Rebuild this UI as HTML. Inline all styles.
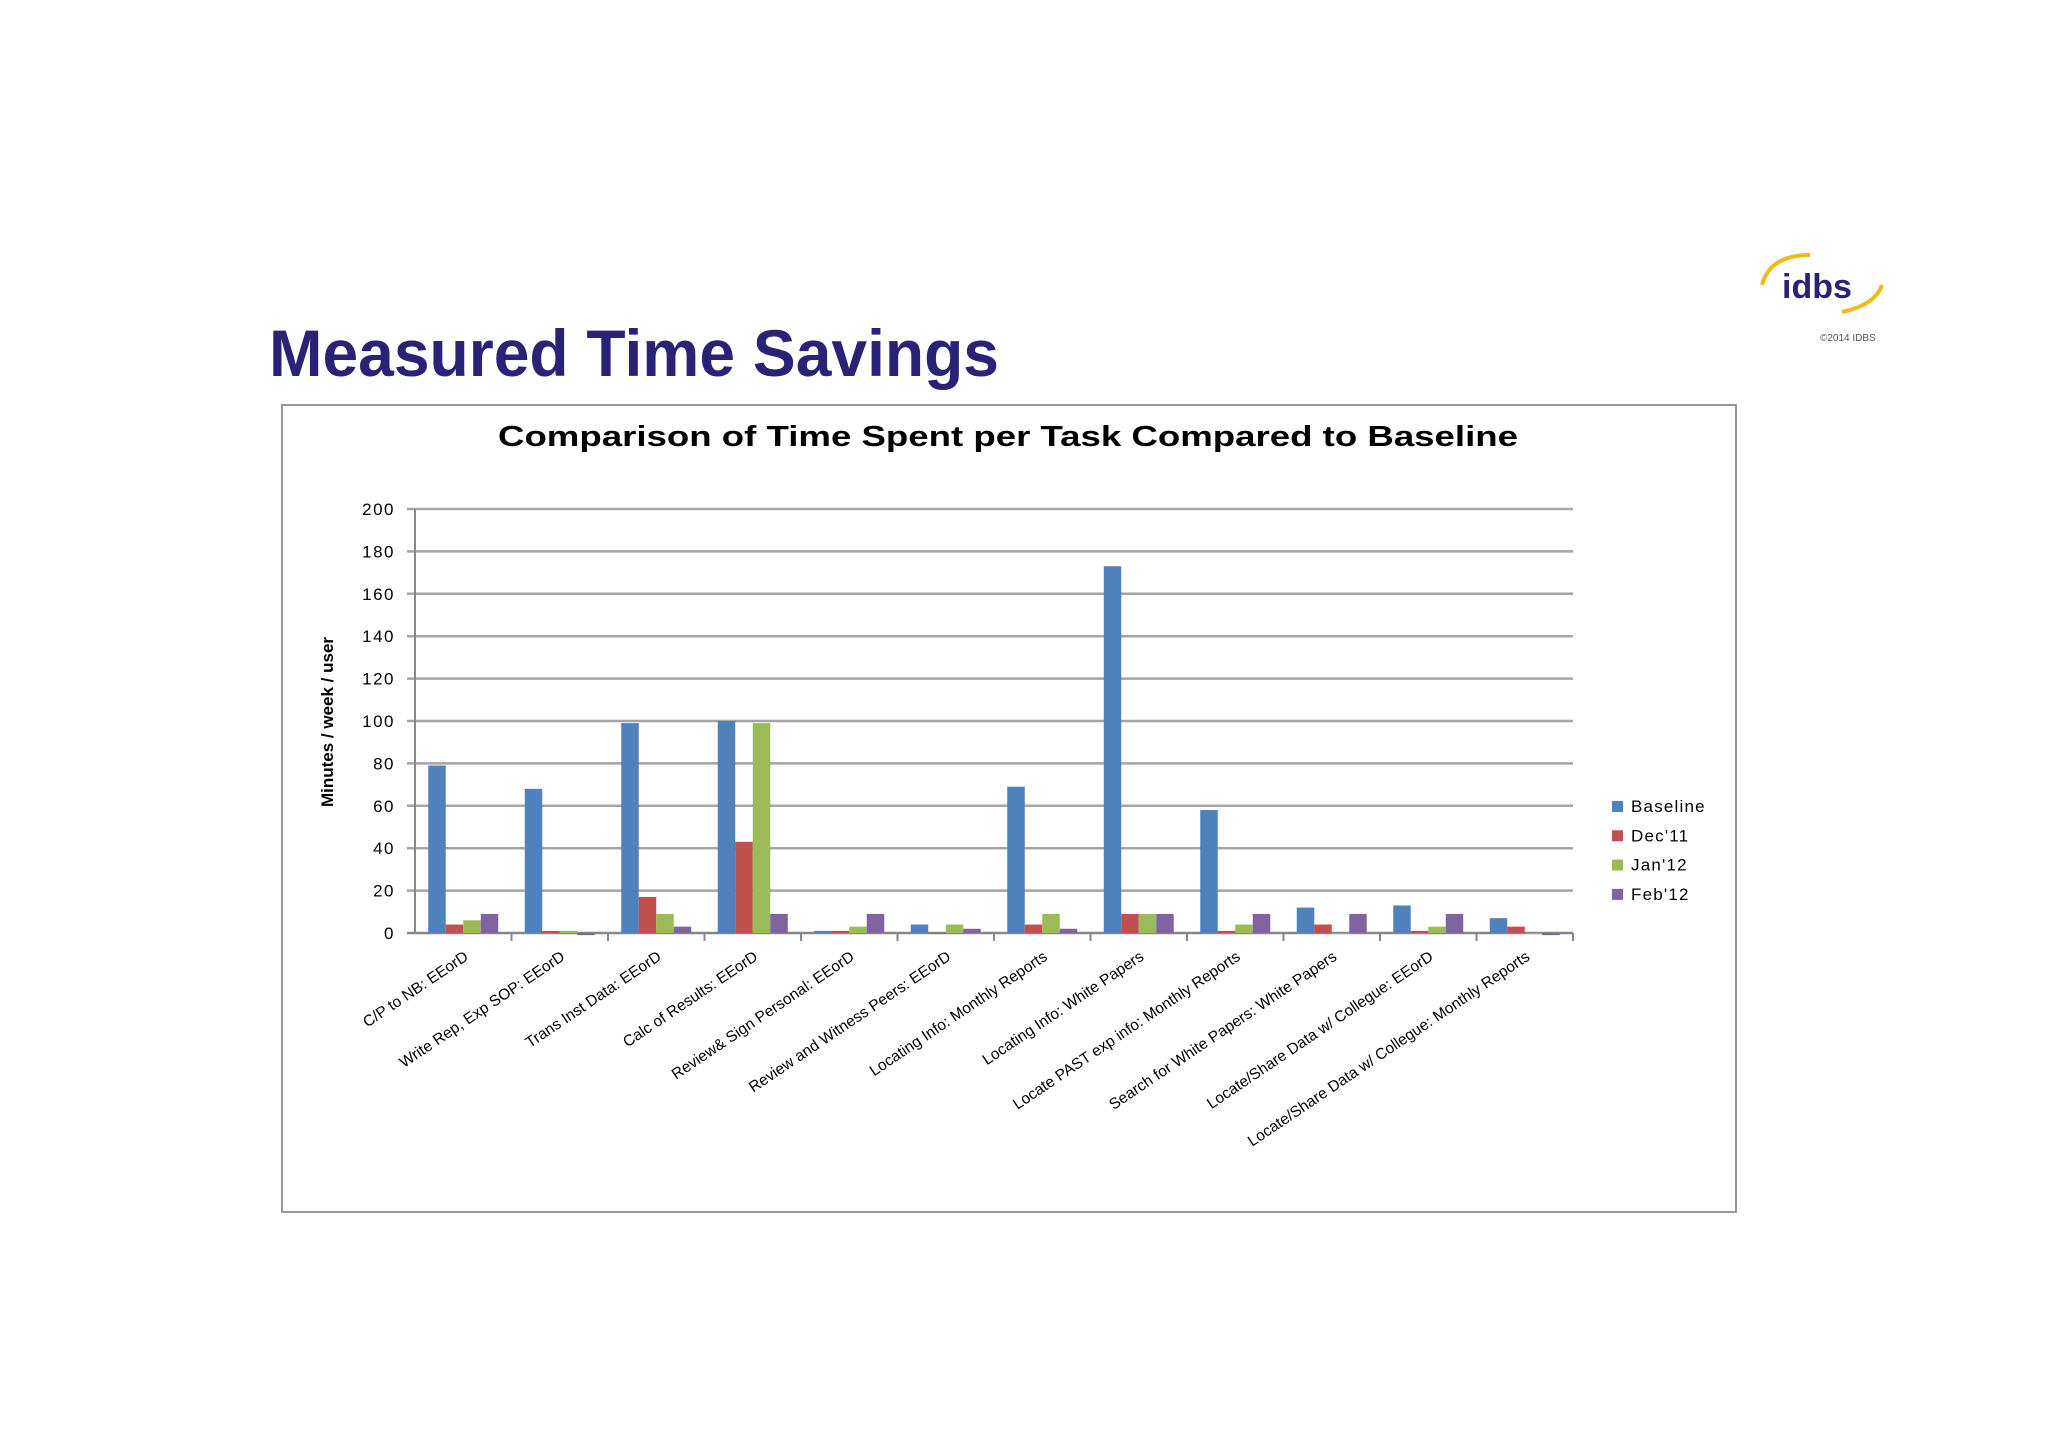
<!DOCTYPE html>
<html><head><meta charset="utf-8"><style>
body{margin:0;width:2048px;height:1447px;background:#fff;overflow:hidden;font-family:"Liberation Sans",sans-serif}
svg{display:block}
</style></head><body>
<svg width="2048" height="1447" id="root">
<text x="269" y="376" font-size="66" font-weight="bold" fill="#2a2277" textLength="730" lengthAdjust="spacingAndGlyphs">Measured Time Savings</text>
<g>
<path d="M1762 285 Q1770 255 1810 255" stroke="#f5b71a" stroke-width="4" fill="none"/>
<text x="1782" y="298" font-size="34" font-weight="bold" fill="#2a2277">idbs</text>
<path d="M1842 312 Q1875 305 1882 285" stroke="#f5b71a" stroke-width="4" fill="none"/>
<text x="1820" y="341" font-size="10" fill="#555">©2014 IDBS</text>
</g>
<rect x="282" y="405" width="1454" height="807" fill="#fff" stroke="#999" stroke-width="2"/>
<text x="1008" y="446" text-anchor="middle" font-size="29" font-weight="bold" fill="#000" textLength="1020" lengthAdjust="spacingAndGlyphs">Comparison of Time Spent per Task Compared to Baseline</text>
<text transform="translate(333,722) rotate(-90)" text-anchor="middle" font-size="17" font-weight="bold" fill="#000">Minutes / week / user</text>
<g id="grid"></g><g id="bars"></g><g id="axes"></g><g id="labels"></g><g id="legend"></g>
</svg>
<script>
const categories=["C/P to NB: EEorD","Write Rep, Exp SOP: EEorD","Trans Inst Data: EEorD","Calc of Results: EEorD","Review& Sign Personal: EEorD","Review and Witness Peers: EEorD","Locating Info: Monthly Reports","Locating Info: White Papers","Locate PAST exp info: Monthly Reports","Search for White Papers: White Papers","Locate/Share Data w/ Collegue: EEorD","Locate/Share Data w/ Collegue: Monthly Reports"];
const seriesNames=["Baseline","Dec'11","Jan'12","Feb'12"];
const baseline=[79,68,99,100,1,4,69,173,58,12,13,7];
const dec11=[4,1,17,43,1,0,4,9,1,4,1,3];
const jan12=[6,1,9,99,3,4,9,9,4,0,3,0];
const feb12=[9,-1,3,9,9,2,2,9,9,9,9,-1];
const yTicks=[0,20,40,60,80,100,120,140,160,180,200];
const colors=["#4f81bd","#c0504d","#9bbb59","#8064a2"];
const series=[baseline,dec11,jan12,feb12];
const NS="http://www.w3.org/2000/svg";
const X0=415,X1=1573,Y0=933,Y200=509;
const y=v=>Y0-(v/200)*(Y0-Y200);
const cw=(X1-X0)/categories.length;
const bw=17.5;
function mk(tag,attrs,parent){const e=document.createElementNS(NS,tag);for(const k in attrs)e.setAttribute(k,attrs[k]);document.getElementById(parent).appendChild(e);return e;}
yTicks.forEach(t=>{
 const l=mk('line',{x1:X0-8,x2:X1,y1:y(t),y2:y(t),stroke:t===0?'#888':'#a5a5a5','stroke-width':2.5},'grid');
 
 
 const tx=mk('text',{x:395,y:y(t)+6,'text-anchor':'end','font-size':17,fill:'#000','letter-spacing':'1.5'},'grid');
 tx.textContent=t;
 
 
});
const ax=mk('line',{x1:X0,x2:X0,y1:Y200,y2:Y0,stroke:'#888','stroke-width':2},'axes');


categories.forEach((c,i)=>{
 const tk=mk('line',{x1:X0+cw*(i+1),x2:X0+cw*(i+1),y1:Y0,y2:Y0+8,stroke:'#888','stroke-width':2},'axes');
 
 
 const cx=X0+cw*(i+0.5);
 series.forEach((s,j)=>{
  const v=s[i];const bx=cx-2*bw+j*bw;
  const r=mk('rect',{x:bx,y:Math.min(y(v),y(0)),width:bw,height:Math.max(Math.abs(y(v)-y(0)),0.8),fill:colors[j]},'bars');
  
  
 });
 const lb=mk('text',{transform:`translate(${cx+6},${Y0+26}) rotate(-34)`,'text-anchor':'end','font-size':15.5,fill:'#000'},'labels');
 lb.textContent=c;
 
 
});
seriesNames.forEach((n,j)=>{
 const yy=807+j*29.3;
 const sq=mk('rect',{x:1612,y:yy-6,width:11,height:11,fill:colors[j]},'legend');
 
 
 const t=mk('text',{x:1631,y:yy+5,'font-size':17,fill:'#000','letter-spacing':'1.2'},'legend');
 t.textContent=n;
 
 
});
</script>
</body></html>
